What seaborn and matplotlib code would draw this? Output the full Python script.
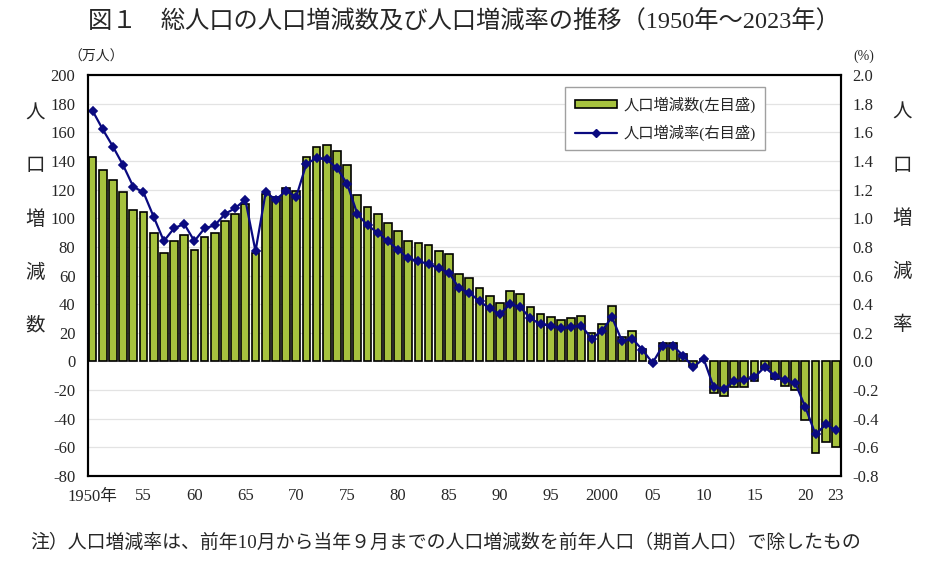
import numpy as np
import matplotlib
matplotlib.use("Agg")
import matplotlib.pyplot as plt
import seaborn as sns
from matplotlib.patches import Patch
from matplotlib.lines import Line2D

# 年次
years = list(range(1950, 2024))

# 人口増減数（万人）
change = [143, 134, 127, 118, 106, 104, 90, 76, 84, 88,
          78, 87, 90, 98, 103, 110, 76, 117, 115, 121,
          119, 143, 150, 151, 147, 137, 116, 108, 103, 97,
          91, 84, 83, 81, 77, 75, 61, 58, 51, 46,
          41, 49, 47, 38, 33, 31, 29, 30, 32, 20,
          26, 39, 17, 21, 9, -1, 13, 13, 5, -3,
          2, -22, -24, -18, -18, -14, -5, -12, -17, -20,
          -41, -64, -56, -60]

# 人口増減率（%）
rate = [1.75, 1.62, 1.50, 1.37, 1.22, 1.18, 1.01, 0.84, 0.93, 0.96,
        0.84, 0.93, 0.95, 1.03, 1.07, 1.13, 0.77, 1.18, 1.13, 1.19,
        1.15, 1.38, 1.42, 1.41, 1.35, 1.24, 1.03, 0.95, 0.90, 0.84,
        0.78, 0.72, 0.70, 0.68, 0.65, 0.62, 0.51, 0.48, 0.42, 0.37,
        0.33, 0.40, 0.38, 0.30, 0.26, 0.25, 0.23, 0.24, 0.25, 0.16,
        0.21, 0.31, 0.14, 0.16, 0.08, -0.01, 0.11, 0.11, 0.04, -0.04,
        0.02, -0.18, -0.19, -0.14, -0.13, -0.11, -0.04, -0.10, -0.13, -0.15,
        -0.32, -0.51, -0.44, -0.48]

tick_years = [1950, 1955, 1960, 1965, 1970, 1975, 1980, 1985, 1990, 1995,
              2000, 2005, 2010, 2015, 2020, 2023]
tick_labels = ["1950年", "55", "60", "65", "70", "75", "80", "85", "90", "95",
               "2000", "05", "10", "15", "20", "23"]

sns.set_theme(style="white")
plt.rcParams["font.family"] = ["Liberation Serif", "Noto Sans CJK JP"]
plt.rcParams["axes.unicode_minus"] = False

bar_color = "#a6c23e"
line_color = "#0a0a80"

fig = plt.figure(figsize=(9.28, 5.61), dpi=100)
ax = fig.add_axes([88 / 928, (561 - 476) / 561, 753 / 928, 401 / 561])

sns.barplot(x=years, y=change, ax=ax, color=bar_color, saturation=1,
            edgecolor="black", linewidth=1.2, width=0.76, errorbar=None)

ax2 = ax.twinx()
sns.pointplot(x=years, y=rate, ax=ax2, color=line_color, markers="D",
              markersize=4, linewidth=1.6, errorbar=None)

ax.set_xlim(-0.45, 73.5)
ax.set_ylim(-80, 200)
ax.set_yticks(range(-80, 201, 20))
rate_ticks = [round(-0.8 + 0.2 * i, 1) for i in range(15)]
ax2.set_ylim(-0.8, 2.0)
ax2.set_yticks(rate_ticks)
ax2.set_yticklabels([f"{abs(v):.1f}" if v == 0 else f"{v:.1f}" for v in rate_ticks])

ax.set_xticks([years.index(y) for y in tick_years])
ax.set_xticklabels(tick_labels)
ax.set_xlabel("")
ax.set_ylabel("")
ax2.set_ylabel("")

ax.yaxis.grid(True, color="#e3e3e3", linewidth=0.9)
ax.xaxis.grid(False)
ax.set_axisbelow(True)

ax.tick_params(axis="y", length=0, labelsize=12, pad=9)
ax.tick_params(axis="x", length=0, labelsize=12, pad=9)
ax2.tick_params(axis="y", length=0, labelsize=12, pad=8)
for a in (ax, ax2):
    for s in a.spines.values():
        s.set_color("black")
        s.set_linewidth(1.5)

handles = [Patch(facecolor=bar_color, edgecolor="black", linewidth=1.2,
                 label="人口増減数(左目盛)"),
           Line2D([], [], color=line_color, marker="D", markersize=4,
                  linewidth=1.6, label="人口増減率(右目盛)")]
ax2.legend(handles=handles, loc="upper left", bbox_to_anchor=(0.634, 0.97),
           borderaxespad=0, fontsize=11, frameon=True, fancybox=False,
           edgecolor="#a0a0a0", framealpha=1, handlelength=2.8,
           handleheight=0.5, handletextpad=0.4, labelspacing=0.8,
           borderpad=0.6, numpoints=1)

# タイトル・注記
fig.text(0.5, 1 - 22 / 561, "図１　総人口の人口増減数及び人口増減率の推移（1950年～2023年）",
         ha="center", va="center", fontsize=17.5)
fig.text(30 / 928, 1 - 543 / 561,
         "注）人口増減率は、前年10月から当年９月までの人口増減数を前年人口（期首人口）で除したもの",
         ha="left", va="center", fontsize=13.6)
fig.text(96 / 928, 1 - 57 / 561, "（万人）", ha="center", va="center", fontsize=10)
fig.text(864 / 928, 1 - 56 / 561, "(%)", ha="center", va="center", fontsize=10)

for i, ch in enumerate("人口増減数"):
    fig.text(35 / 928, 1 - (114 + 53 * i) / 561, ch, ha="center", va="center", fontsize=14)
for i, ch in enumerate("人口増減率"):
    fig.text(902 / 928, 1 - (113 + 53 * i) / 561, ch, ha="center", va="center", fontsize=14)

fig.savefig("out.png", dpi=100)
